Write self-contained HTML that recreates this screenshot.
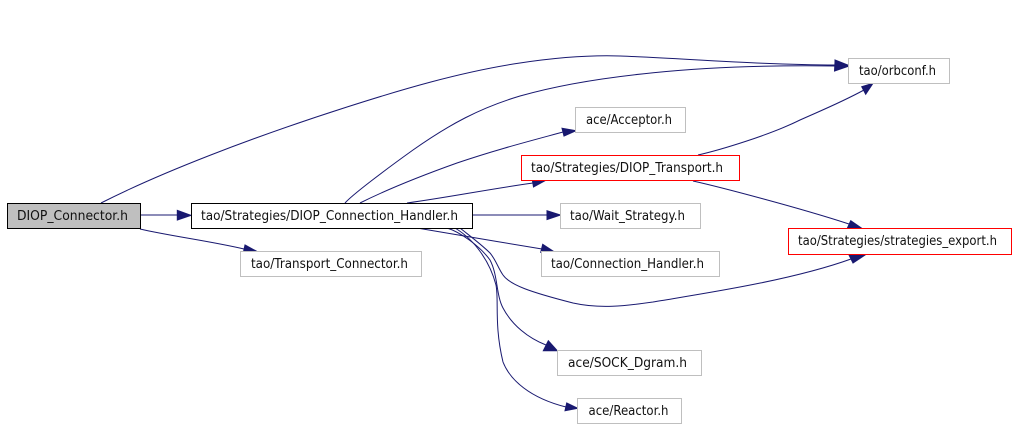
<!DOCTYPE html>
<html><head><meta charset="utf-8"><style>
html,body{margin:0;padding:0;background:#fff}
svg{display:block}
text{font-family:"DejaVu Sans",sans-serif;font-size:13.3px;fill:#111}
.e{fill:none;stroke:#191970;stroke-width:1}
.a{fill:#191970;stroke:#191970;stroke-width:1}
.n{fill:#fff;stroke:#bfbfbf;stroke-width:1}
.b{fill:#fff;stroke:#000;stroke-width:1}
.r{fill:#fff;stroke:#f00;stroke-width:1}
</style></head><body>
<svg width="1016" height="427" viewBox="0 0 1016 427" xmlns="http://www.w3.org/2000/svg">
<rect width="1016" height="427" fill="#fff"/>
<!-- edges -->
<path class="e" d="M101 203 C160 173,250 138,347 107 C400 90,460 72,520 63 C560 57,590 55,620 56 C680 58,760 65,836 65"/>
<path class="e" d="M345 203 C352 195,385 170,413 150 C450 124,480 108,520 96 C590 76,700 64,836 66"/>
<path class="e" d="M360 203 C380 193,415 178,457 163 C495 150,530 141,563 132"/>
<path class="e" d="M407 203 C450 197,490 189,533 183"/>
<path class="e" d="M472 215 L548 215"/>
<path class="e" d="M417 228 C440 232,500 242,542 249"/>
<path class="e" d="M460 228 C470 236,482 245,490 253 C496 260,498 268,503 275 C510 285,530 292,573 303 C600 309,625 306,653 302 C700 294,790 281,851 259"/>
<path class="e" d="M447 228 C460 232,480 246,490 260 C498 275,496 295,503 308 C512 325,528 338,546 345"/>
<path class="e" d="M455 228 C475 240,490 262,496 285 C499 300,494 325,503 362 C510 380,530 398,566 407"/>
<path class="e" d="M698 155 C720 150,770 135,800 120 C820 111,840 103,864 90"/>
<path class="e" d="M693 181 C720 187,800 208,849 224"/>
<path class="e" d="M141 215 L178 215"/>
<path class="e" d="M140 229 C170 236,210 241,244 249"/>
<!-- arrowheads -->
<polygon class="a" points="835,60 849,65.5 835,69"/>
<polygon class="a" points="835,62 849,66 834.5,71"/>
<polygon class="a" points="562,128.3 576,130.7 564,136"/>
<polygon class="a" points="532,178 545,180.7 533.5,187"/>
<polygon class="a" points="861.7,86.7 873,83.3 865.7,94.3"/>
<polygon class="a" points="547,210.7 560.5,215 547,219.5"/>
<polygon class="a" points="542.7,244.3 554,251.7 540.7,252.3"/>
<polygon class="a" points="850.7,220.7 861.7,228.3 847.3,228.3"/>
<polygon class="a" points="848.5,254 865,255 853,263"/>
<polygon class="a" points="548.3,340.7 557.3,350.7 543.3,350.7"/>
<polygon class="a" points="566.7,403 577.7,408.3 565,410.7"/>
<polygon class="a" points="245,245 256.7,251.3 243.3,252.7"/>
<polygon class="a" points="177.3,210.3 191,215.3 177.3,220"/>
<!-- nodes -->
<rect x="7.5" y="203.5" width="133" height="25" fill="#bfbfbf" stroke="#000"/>
<text x="17" y="220" textLength="111" lengthAdjust="spacingAndGlyphs">DIOP_Connector.h</text>
<rect class="b" x="191.5" y="203.5" width="281" height="25"/>
<text x="201" y="220" textLength="257" lengthAdjust="spacingAndGlyphs">tao/Strategies/DIOP_Connection_Handler.h</text>
<rect class="n" x="240.5" y="251.5" width="181" height="25"/>
<text x="251" y="268" textLength="157" lengthAdjust="spacingAndGlyphs">tao/Transport_Connector.h</text>
<rect class="n" x="848.5" y="58.5" width="101" height="25"/>
<text x="859" y="75" textLength="77" lengthAdjust="spacingAndGlyphs">tao/orbconf.h</text>
<rect class="n" x="575.5" y="107.5" width="110" height="25"/>
<text x="586" y="124" textLength="86" lengthAdjust="spacingAndGlyphs">ace/Acceptor.h</text>
<rect class="r" x="521.5" y="155.5" width="218" height="25"/>
<text x="531" y="172" textLength="192" lengthAdjust="spacingAndGlyphs">tao/Strategies/DIOP_Transport.h</text>
<rect class="n" x="560.5" y="203.5" width="140" height="25"/>
<text x="570" y="220" textLength="115" lengthAdjust="spacingAndGlyphs">tao/Wait_Strategy.h</text>
<rect class="n" x="541.5" y="251.5" width="178" height="25"/>
<text x="551" y="268" textLength="153" lengthAdjust="spacingAndGlyphs">tao/Connection_Handler.h</text>
<rect class="r" x="788.5" y="228.5" width="223" height="26"/>
<text x="798" y="245" textLength="199" lengthAdjust="spacingAndGlyphs">tao/Strategies/strategies_export.h</text>
<rect class="n" x="557.5" y="350.5" width="144" height="25"/>
<text x="568" y="367" textLength="119" lengthAdjust="spacingAndGlyphs">ace/SOCK_Dgram.h</text>
<rect class="n" x="577.5" y="398.5" width="104" height="25"/>
<text x="588.5" y="415" textLength="80" lengthAdjust="spacingAndGlyphs">ace/Reactor.h</text>
</svg>
</body></html>
